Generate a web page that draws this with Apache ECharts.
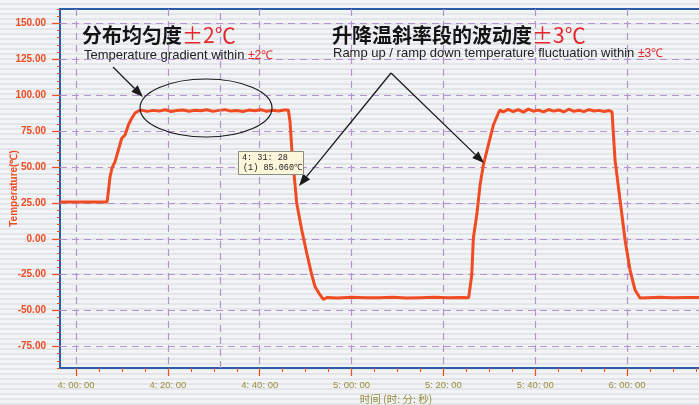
<!DOCTYPE html>
<html>
<head>
<meta charset="utf-8">
<script src="https://cdn.jsdelivr.net/npm/echarts@6/dist/echarts.min.js"></script>
<style>
  html, body { margin: 0; padding: 0; }
  body {
    width: 699px; height: 405px; overflow: hidden;
    background: repeating-linear-gradient(to bottom, #f2f4f5 0px, #f2f4f5 3px, #e2e6e9 3px, #e2e6e9 5px);
  }
  #main { width: 699px; height: 405px; }
</style>
</head>
<body>
<div id="main"></div>
<script>
// minutes after 4:00:00
const minutes = [
  -3.5, 6.75, 7.03, 7.40, 7.84, 8.49, 9.95, 10.67, 11.39, 12.13, 12.85, 13.57,
  14.2, 15.5, 16.8, 18.1, 19.4, 20.7, 22.0, 23.3, 24.6, 25.9, 27.2, 28.5, 29.8,
  31.1, 32.4, 33.7, 35.0, 36.3, 37.6, 38.9, 40.2, 41.5, 42.8, 44.1, 45.4,
  46.23, 46.6, 46.97, 47.69, 48.06, 49.15, 50.24, 51.33, 52.05, 53.14, 53.85, 54.66,
  57, 60, 63, 66, 69, 72, 75, 78, 81, 84, 85.5,
  86.17, 86.52, 87.26, 87.98, 88.70, 89.79, 90.88, 91.96, 92.33,
  93.0, 94.1, 95.2, 96.3, 97.4, 98.5, 99.6, 100.7, 101.8, 102.9, 104.0, 105.1,
  106.2, 107.3, 108.4, 109.5, 110.6, 111.7, 112.8, 113.9, 115.0, 116.1,
  116.72, 117.38, 118.47, 119.56, 120.65, 121.74, 122.82,
  124.5, 127, 130, 133, 136.1
];
// chamber temperature (°C)
const temps = [
  25.6, 25.6, 32.8, 43.2, 49.3, 53.7, 70.0, 72.3, 79.2, 83.9, 87.6, 89.0,
  89.6, 88.7, 89.4, 88.9, 89.8, 88.6, 89.3, 89.7, 88.8, 89.5, 89.1, 89.8, 88.7,
  89.4, 89.9, 88.9, 89.3, 88.6, 89.6, 89.2, 89.9, 88.8, 89.5, 89.0, 89.7,
  89.7, 81.5, 63.0, 37.4, 24.7, 6.1, -10.1, -25.2, -33.4, -39.1, -42.2, -40.9,
  -41.2, -40.8, -41.1, -41.0, -40.7, -41.2, -41.0, -40.8, -41.1, -40.9, -41.0,
  -25.2, 0.3, 16.5, 37.4, 51.4, 65.3, 79.2, 87.4, 89.7,
  88.3, 90.1, 88.6, 89.9, 88.2, 90.3, 88.8, 89.6, 88.4, 90.0, 88.9, 89.7,
  88.3, 90.2, 88.7, 89.5, 88.5, 89.9, 89.0, 89.4, 88.6, 89.3,
  88.3, 54.8, 27.0, -0.9, -21.8, -35.7, -41.3,
  -41.0, -40.8, -41.1, -40.9, -41.0
];

const START = 240;                 // 4:00:00 in minutes since midnight
const X_MIN = START - 3.5, X_MAX = START + 136.1;
const xMajorTicks = [240, 260, 280, 300, 320, 340, 360];
const yMajorTicks = [-75, -50, -25, 0, 25, 50, 75, 100, 125, 150];
const cursorTime = '4:31:28';
const cursorValue = '85.060';

const xMinorTicks = [];
for (let v = 240; v <= 375; v += 5) xMinorTicks.push(v);
const yMinorTicks = [];
for (let v = -90; v <= 160; v += 5) yMinorTicks.push(v);

const RED = '#f04b23';
const PURPLE = '#b592d2';
const BLUE = '#2c5ca8';
const OLIVE = '#9b8c3c';

const pad = n => (n < 10 ? '0' : '') + n;
function hms(v) {
  const s = Math.round(v * 60);
  return Math.floor(s / 3600) + ': ' + pad(Math.floor((s % 3600) / 60)) + ': ' + pad(s % 60);
}
const cp = cursorTime.split(':').map(Number);
const cursorMin = cp[0] * 60 + cp[1] + cp[2] / 60;

const seriesData = minutes.map((m, i) => [START + m, temps[i]]);

function arrow(x1, y1, x2, y2) {
  const a = Math.atan2(y2 - y1, x2 - x1), L = 12, W = 4.5;
  const bx = x2 - L * Math.cos(a), by = y2 - L * Math.sin(a);
  return [
    { type: 'line', shape: { x1: x1, y1: y1, x2: bx, y2: by }, style: { stroke: '#1a1a1a', lineWidth: 1.3 }, z: 100 },
    { type: 'polygon', shape: { points: [[x2, y2],
        [bx + W * Math.sin(a), by - W * Math.cos(a)],
        [bx - W * Math.sin(a), by + W * Math.cos(a)]] },
      style: { fill: '#1a1a1a' }, z: 100 }
  ];
}

const chart = echarts.init(document.getElementById('main'));

const baseX = {
  type: 'value', min: X_MIN, max: X_MAX, position: 'bottom',
  axisLine: { show: false, onZero: false }
};
const baseY = {
  type: 'value', min: -90, max: 160, position: 'left',
  axisLine: { show: false, onZero: false }
};

chart.setOption({
  animation: false,
  backgroundColor: 'transparent',
  grid: {
    left: 60, right: -2, top: 9, bottom: 37,
    outerBoundsMode: 'none', containLabel: false,
    show: true, borderColor: BLUE, borderWidth: 2, backgroundColor: 'transparent'
  },
  xAxis: [
    Object.assign({}, baseX, {
      axisTick: { customValues: xMinorTicks, length: 4, lineStyle: { color: RED } },
      axisLabel: { show: false },
      splitLine: { show: false }
    }),
    Object.assign({}, baseX, {
      name: '时间 (时: 分: 秒)',
      nameLocation: 'middle',
      nameGap: 26,
      nameMoveOverlap: false,
      nameTextStyle: { color: OLIVE, fontSize: 10.5, fontFamily: 'Noto Sans CJK SC', padding: [0, 0, 0, 31] },
      axisTick: { customValues: xMajorTicks, length: 8, lineStyle: { color: RED, width: 1.2 } },
      axisLabel: { customValues: xMajorTicks, formatter: hms, color: OLIVE, fontSize: 9.5, margin: 12, fontFamily: 'Liberation Sans' },
      splitLine: { show: true, lineStyle: { color: PURPLE, type: [7, 5], width: 1.2 } }
    })
  ],
  yAxis: [
    Object.assign({}, baseY, {
      axisTick: { customValues: yMinorTicks, length: 3, lineStyle: { color: RED } },
      axisLabel: { show: false },
      splitLine: { show: false }
    }),
    Object.assign({}, baseY, {
      name: 'Temperature(℃)',
      nameLocation: 'middle',
      nameGap: 41,
      nameMoveOverlap: false,
      nameTextStyle: { color: RED, fontSize: 10, fontWeight: 'bold', fontFamily: 'Liberation Sans' },
      axisTick: { customValues: yMajorTicks, length: 8, lineStyle: { color: RED, width: 1.2 } },
      axisLabel: { customValues: yMajorTicks, formatter: v => v.toFixed(2), color: RED, fontSize: 10, fontWeight: 'bold', margin: 14, fontFamily: 'Liberation Sans' },
      splitLine: { show: true, lineStyle: { color: PURPLE, type: [7, 5], width: 1.2 } }
    })
  ],
  series: [{
    type: 'line',
    data: seriesData,
    showSymbol: false,
    clip: true,
    lineStyle: { color: RED, width: 3 },
    markLine: {
      silent: true,
      symbol: 'none',
      label: { show: false },
      lineStyle: { color: PURPLE, type: [7, 5], width: 1.2 },
      data: [{ xAxis: cursorMin }]
    }
  }],
  graphic: [
    { type: 'text', left: 82, top: 25, z: 100, style: {
        text: '{a|分布均匀度}{b|±2℃}',
        rich: {
          a: { fontSize: 20, fontWeight: 'bold', fontFamily: 'Noto Sans CJK SC', fill: '#141414' },
          b: { fontSize: 21, fontFamily: 'Noto Sans CJK SC', fill: '#e8262a' }
        } } },
    { type: 'text', left: 84, top: 49, z: 100, style: {
        text: '{a|Temperature gradient within }{b|±2℃}',
        rich: {
          a: { fontSize: 13, fontFamily: 'Liberation Sans', fill: '#222' },
          b: { fontSize: 12, fontFamily: 'Liberation Sans', fill: '#e8262a' }
        } } },
    { type: 'text', left: 332, top: 25, z: 100, style: {
        text: '{a|升降温斜率段的波动度}{b|±3℃}',
        rich: {
          a: { fontSize: 20, fontWeight: 'bold', fontFamily: 'Noto Sans CJK SC', fill: '#141414' },
          b: { fontSize: 21, fontFamily: 'Noto Sans CJK SC', fill: '#e8262a' }
        } } },
    { type: 'text', left: 333, top: 47, z: 100, style: {
        text: '{a|Ramp up / ramp down temperature fluctuation within }{b|±3℃}',
        rich: {
          a: { fontSize: 13, fontFamily: 'Liberation Sans', fill: '#222' },
          b: { fontSize: 12, fontFamily: 'Liberation Sans', fill: '#e8262a' }
        } } },
    { type: 'ellipse', shape: { cx: 206, cy: 108, rx: 66, ry: 29 }, z: 100,
      style: { fill: 'none', stroke: '#1a1a1a', lineWidth: 1.2 } },
    ...arrow(113, 67, 143, 97),
    ...arrow(391, 73, 299, 186),
    ...arrow(391, 73, 484, 163),
    { type: 'rect', left: 238, top: 151, z: 110, shape: { x: 0, y: 0, width: 65, height: 23 },
      style: { fill: '#fcf7da', stroke: '#8c8c80', lineWidth: 1 } },
    { type: 'text', left: 242, top: 153, z: 111,
      style: { text: hms(cursorMin), font: '8.5px "Liberation Mono"', fill: '#222' } },
    { type: 'text', left: 243, top: 163, z: 111,
      style: { text: '(1) ' + cursorValue + '℃', font: '8.5px "Liberation Mono"', fill: '#222' } }
  ]
});
</script>
</body>
</html>
